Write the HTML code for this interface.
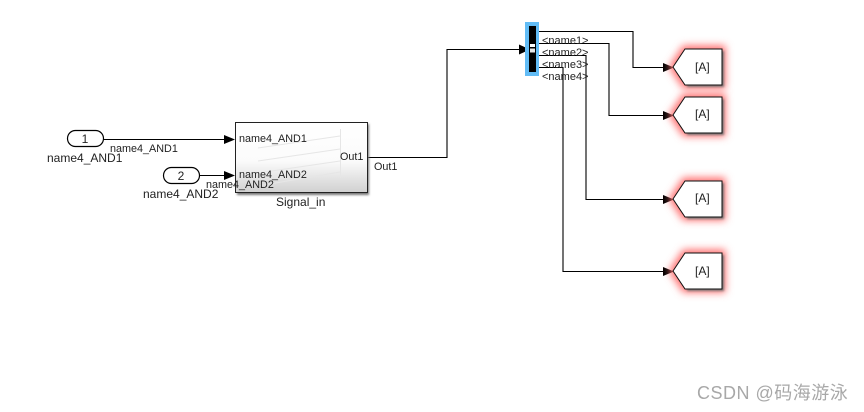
<!DOCTYPE html>
<html>
<head>
<meta charset="utf-8">
<style>
html,body{margin:0;padding:0;background:#fff;width:864px;height:412px;overflow:hidden}
svg{display:block}
text{font-family:"Liberation Sans",sans-serif;fill:#222;font-size:10.8px}
</style>
</head>
<body>
<svg width="864" height="412" viewBox="0 0 864 412" xmlns="http://www.w3.org/2000/svg">
<defs>
<linearGradient id="g" x1="0" y1="0" x2="0" y2="1">
<stop offset="0" stop-color="#ffffff"/>
<stop offset="0.55" stop-color="#fbfbfb"/>
<stop offset="1" stop-color="#d0d0d0"/>
</linearGradient>
<filter id="glow" x="-50%" y="-50%" width="200%" height="200%"><feGaussianBlur stdDeviation="4"/></filter>
<filter id="sh" x="-10%" y="-10%" width="120%" height="120%"><feGaussianBlur stdDeviation="1"/></filter>
<filter id="soft" x="0" y="0" width="100%" height="100%" filterUnits="userSpaceOnUse" primitiveUnits="userSpaceOnUse"><feGaussianBlur stdDeviation="0.3"/></filter>
<polygon id="goto" points="685,0 722,0 722,36 685,36 673,18"/>
</defs>

<g filter="url(#soft)">
<rect x="0" y="0" width="864" height="412" fill="#fff"/>
<!-- connectors -->
<g fill="none" stroke="#000" stroke-width="1.1">
<path d="M103 139.500H226"/>
<path d="M199 175.500H226"/>
<path d="M367 157.500H447V49.500H520"/>
<path d="M536 31.500H633V67.500H665"/>
<path d="M536 43.500H609V115.500H665"/>
<path d="M536 55.500H586V199.500H665"/>
<path d="M536 67.500H563V271.500H665"/>
</g>
<!-- arrowheads -->
<g fill="#000">
<polygon points="224,135 235,139.500 224,144"/>
<polygon points="224,171 235,175.500 224,180"/>
<polygon points="519,44.500 530,49.500 519,54.500"/>
<polygon points="663,63 674,67.500 663,72"/>
<polygon points="663,111 674,115.500 663,120"/>
<polygon points="663,195 674,199.500 663,204"/>
<polygon points="663,267 674,271.500 663,276"/>
</g>

<!-- inports -->
<rect x="67.500" y="130.500" width="36" height="16" rx="8" ry="8" fill="#fff" stroke="#000" stroke-width="1.2"/>
<rect x="163.500" y="167.500" width="36" height="16" rx="8" ry="8" fill="#fff" stroke="#000" stroke-width="1.2"/>
<text x="85" y="143" text-anchor="middle" style="font-size:12px">1</text>
<text x="181" y="180" text-anchor="middle" style="font-size:12px">2</text>
<text x="47" y="162" style="font-size:12px">name4_AND1</text>
<text x="143" y="198" style="font-size:12px">name4_AND2</text>
<text x="110" y="152">name4_AND1</text>

<!-- subsystem -->
<rect x="237" y="124" width="132" height="71" fill="#777" filter="url(#sh)"/>
<rect x="235.500" y="122.500" width="132" height="70" fill="url(#g)" stroke="#222" stroke-width="1"/>
<g stroke="#e6e6e6" stroke-width="1" fill="none">
<path d="M340.500 129V178"/>
<path d="M258 148L340 136"/>
<path d="M258 161L340 149"/>
<path d="M258 173L340 161"/>
<path d="M258 186L340 172"/>
</g>
<text x="239" y="142">name4_AND1</text>
<text x="239" y="178">name4_AND2</text>
<text x="340" y="160">Out1</text>
<text x="206" y="188">name4_AND2</text>
<text x="374" y="170">Out1</text>
<text x="276" y="206" style="font-size:12px">Signal_in</text>

<!-- bus selector -->
<rect x="525" y="22" width="14" height="54" fill="#62bcf5"/>
<rect x="529" y="26" width="7" height="46" fill="#000"/>
<rect x="530" y="44" width="5" height="3" fill="#fff"/>
<rect x="530" y="48.500" width="5" height="4" fill="#e8e8e8"/>
<text x="542" y="44" style="font-size:11px">&lt;name1&gt;</text>
<text x="542" y="56" style="font-size:11px">&lt;name2&gt;</text>
<text x="542" y="68" style="font-size:11px">&lt;name3&gt;</text>
<text x="542" y="80" style="font-size:11px">&lt;name4&gt;</text>

<!-- goto blocks -->
<g transform="translate(0,49)">
<use href="#goto" fill="#ff7070" stroke="#ff7070" stroke-width="7" filter="url(#glow)"/>
<polygon points="687,2 724,2 724,38 687,38" fill="#777" filter="url(#sh)"/>
<use href="#goto" fill="#fff" stroke="#111" stroke-width="1"/>
<text x="695" y="22" style="font-size:12px">[A]</text>
</g>
<g transform="translate(0,97)">
<use href="#goto" fill="#ff7070" stroke="#ff7070" stroke-width="7" filter="url(#glow)"/>
<polygon points="687,2 724,2 724,38 687,38" fill="#777" filter="url(#sh)"/>
<use href="#goto" fill="#fff" stroke="#111" stroke-width="1"/>
<text x="695" y="21" style="font-size:12px">[A]</text>
</g>
<g transform="translate(0,181)">
<use href="#goto" fill="#ff7070" stroke="#ff7070" stroke-width="7" filter="url(#glow)"/>
<polygon points="687,2 724,2 724,38 687,38" fill="#777" filter="url(#sh)"/>
<use href="#goto" fill="#fff" stroke="#111" stroke-width="1"/>
<text x="695" y="21" style="font-size:12px">[A]</text>
</g>
<g transform="translate(0,253)">
<use href="#goto" fill="#ff7070" stroke="#ff7070" stroke-width="7" filter="url(#glow)"/>
<polygon points="687,2 724,2 724,38 687,38" fill="#777" filter="url(#sh)"/>
<use href="#goto" fill="#fff" stroke="#111" stroke-width="1"/>
<text x="695" y="22" style="font-size:12px">[A]</text>
</g>

<!-- watermark -->
<text x="697" y="399" style="font-size:18px;fill:#a8a8a8;font-family:'Liberation Sans','Noto Sans CJK SC',sans-serif;letter-spacing:.5px">CSDN @码海游泳</text>
</g>
</svg>
</body>
</html>
